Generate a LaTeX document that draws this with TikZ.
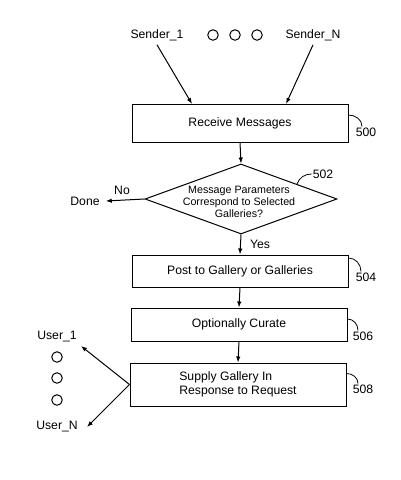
\documentclass[tikz,border=0pt]{standalone}
\usepackage{fontspec}
\setmainfont{Liberation Sans}
\usetikzlibrary{shapes.geometric,arrows.meta,calc}
\begin{document}
\begin{tikzpicture}[x=1pt,y=-1pt,
  box/.style={draw, line width=1pt, minimum width=216pt, inner sep=0pt, font=\fontsize{12.2}{14}\selectfont},
  lbl/.style={font=\fontsize{12.2}{14}\selectfont, inner sep=1pt},
  arr/.style={line width=1pt, -{Latex[length=6pt,width=4.5pt]}},
  lead/.style={line width=0.8pt},
  dot/.style={circle, draw, line width=1pt, minimum size=10.5pt, inner sep=0pt}]
\useasboundingbox (0,0) rectangle (400,480);
% senders
\node[lbl] (s1) at (157,35) {Sender\_1};
\node[lbl] (sn) at (313,35) {Sender\_N};
\node[dot] (c1) at (213,35) {};
\node[dot] (c2) at (235,35) {};
\node[dot] (c3) at (257,35) {};
% boxes
\node[box, minimum height=38pt] (recv) at (240,123) {Receive Messages};
\node[diamond, draw, line width=1pt, minimum width=192pt, minimum height=70pt, inner sep=0pt] (dec) at (241,199) {};
\node[font=\fontsize{10.7}{12}\selectfont, align=center, inner sep=0pt] (dect) at (239,202) {Message Parameters\\Correspond to Selected\\Galleries?};
\node[box, minimum height=32pt] (post) at (240,271) {Post to Gallery or Galleries};
\node[box, minimum height=33pt] (cur) at (239,324.5) {Optionally Curate};
\node[box, minimum height=43pt, align=left] (sup) at (238,384.5) {Supply Gallery In\\Response to Request};
% side labels
\node[lbl] (done) at (85,201) {Done};
\node[lbl] (no) at (122,190) {No};
\node[lbl] (yes) at (260,244) {Yes};
% reference numbers
\node[lbl] (n500) at (366,132) {500};
\node[lbl] (n502) at (323,174) {502};
\node[lbl] (n504) at (366,277) {504};
\node[lbl] (n506) at (363,336) {506};
\node[lbl] (n508) at (363,389) {508};
% users
\node[lbl] (u1) at (57,337) {User\_1};
\node[dot] (d1) at (57,357) {};
\node[dot] (d2) at (57,378) {};
\node[dot] (d3) at (57,400) {};
\node[lbl] (un) at (57,427) {User\_N};
\coordinate (r1) at (192,104);
\coordinate (rn) at (286,104);
\coordinate (u1tip) at (81,346);
\coordinate (untip) at (87,427);
% connectors
\draw[arr] ([yshift=-3pt]s1.south) -- (r1);
\draw[arr] ([yshift=-3pt]sn.south) -- (rn);
\draw[arr] (recv.south) -- (dec.north);
\draw[arr] (dec.west) -- ([xshift=5pt]done.east);
\draw[arr] (dec.south) -- (post.north);
\draw[arr] (post.south) -- (cur.north);
\draw[arr] (cur.south) -- (sup.north);
\draw[arr] (sup.west) -- (u1tip);
\draw[arr] (sup.west) -- (untip);
% leaders
\draw[lead] ([yshift=8pt]recv.east) to[out=0,in=90] ([xshift=-4pt]n500.north);
\draw[lead] ($(dec.north)!0.58!(dec.east)$) to[out=70,in=180] (n502.west);
\draw[lead] ([yshift=13pt]post.east) to[out=0,in=90] ([xshift=-5pt]n504.north);
\draw[lead] ([yshift=5.5pt]cur.east) to[out=0,in=90] ([xshift=-5pt]n506.north);
\draw[lead] ([yshift=11pt]sup.east) to[out=0,in=90] ([xshift=-5pt]n508.north);
\end{tikzpicture}
\end{document}
